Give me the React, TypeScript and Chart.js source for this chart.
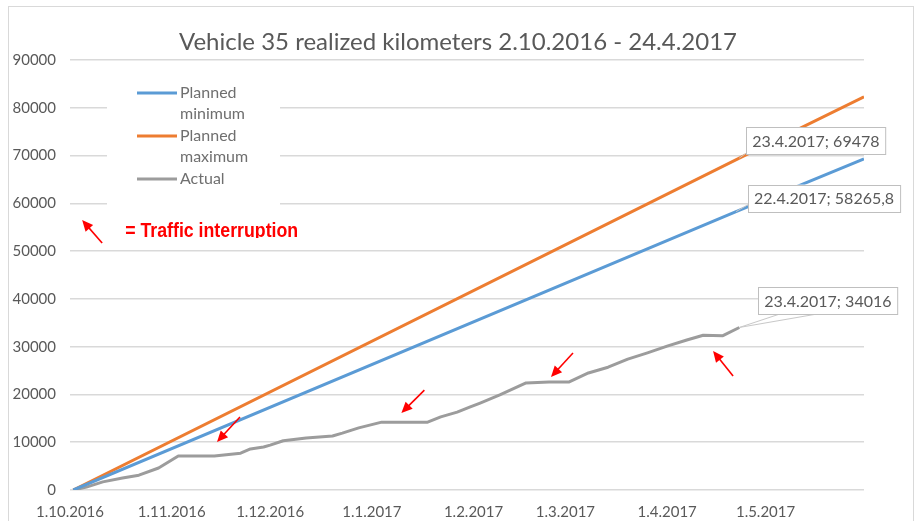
import React, { useEffect, useRef } from "react";
import { Chart, registerables } from "chart.js";

Chart.register(...registerables);

// ---------------- data ----------------
const TITLE = "Vehicle 35 realized kilometers 2.10.2016 - 24.4.2017";
const NOTE_TEXT = "= Traffic interruption";

// x values are days since 1.10.2016
const monthTickDays = [0, 31, 61, 92, 123, 151, 182, 212];
const monthTickLabels = [
  "1.10.2016", "1.11.2016", "1.12.2016", "1.1.2017",
  "1.2.2017", "1.3.2017", "1.4.2017", "1.5.2017",
];
const X_MAX_DAY = 242;
const Y_MAX = 90000;
const Y_STEP = 10000;

const seriesNames = ["Planned minimum", "Planned maximum", "Actual"];

const plannedMinDays = [1, 203, 242];
const plannedMinKm = [0, 58265.8, 69300];

const plannedMaxDays = [1, 204, 242];
const plannedMaxKm = [0, 69478, 82300];

const actualDays = [
  1, 5, 10, 16, 21, 27, 33, 44, 52, 55, 59, 61, 65, 72, 80, 83, 88, 95, 102,
  109, 113, 118, 122, 125, 131, 139, 146, 152, 158, 164, 170, 176, 182, 188,
  193, 199, 204,
];
const actualKm = [
  0, 600, 1700, 2500, 3100, 4600, 7100, 7100, 7700, 8600, 9000, 9400, 10300,
  10900, 11300, 11900, 13000, 14200, 14200, 14200, 15300, 16300, 17400, 18200,
  19900, 22400, 22600, 22600, 24500, 25700, 27400, 28700, 30100, 31400, 32400,
  32300, 34016,
];

// index of the labelled point in each series
const labelledIndex = [1, 1, actualDays.length - 1];

// traffic interruption arrows (arrow heads), days / km
const interruptionDays = [44.8, 101, 146.6, 196];
const interruptionKm = [10050, 16100, 23650, 29100];
// key arrow next to the note
const noteArrowDay = 3.7;
const noteArrowKm = 56500;

// ---------------- styles ----------------
const COLORS = ["#5b9bd5", "#ed7d31", "#9c9c9c"];
const FONT = "Lato, 'Open Sans', sans-serif";
const TEXT = "#595959";

function fmtDate(day: number) {
  const d = new Date(2016, 9, 1 + day);
  return `${d.getDate()}.${d.getMonth() + 1}.${d.getFullYear()}`;
}
function fmtKm(v: number) {
  return String(v).replace(".", ",");
}

function drawArrow(ctx: CanvasRenderingContext2D, x1: number, y1: number, x2: number, y2: number) {
  const ang = Math.atan2(y2 - y1, x2 - x1);
  const c = Math.cos(ang), s = Math.sin(ang);
  const L = 11, W = 5;
  ctx.beginPath();
  ctx.moveTo(x1, y1);
  ctx.lineTo(x2 - L * 0.7 * c, y2 - L * 0.7 * s);
  ctx.stroke();
  ctx.beginPath();
  ctx.moveTo(x2, y2);
  ctx.lineTo(x2 - L * c + W * s, y2 - L * s - W * c);
  ctx.lineTo(x2 - L * c - W * s, y2 - L * s + W * c);
  ctx.closePath();
  ctx.fill();
}

const labelOffsets = [
  { dx: 12, dy: -27, wedge: false, lx: 0, ly: 20 },
  { dx: 7, dy: -31, wedge: false, lx: 0, ly: 26 },
  { dx: 19, dy: -40, wedge: true, lx: 0, ly: 0 },
];
const arrowTails = [
  [23, -25],
  [23, -23],
  [22, -24],
  [20, 25],
];

const decorPlugin = {
  id: "decor",
  beforeDraw(chart: any) {
    const { ctx, width, height } = chart;
    ctx.save();
    ctx.fillStyle = "#ffffff";
    ctx.fillRect(0, 0, width, height);
    ctx.strokeStyle = "#d9d9d9";
    ctx.lineWidth = 1;
    ctx.strokeRect(8.5, 6.5, 905, height + 10);
    // title
    ctx.fillStyle = TEXT;
    ctx.font = `24px ${FONT}`;
    ctx.textAlign = "center";
    ctx.textBaseline = "middle";
    ctx.fillText(TITLE, 458, 42);
    ctx.restore();
  },
  beforeDatasetsDraw(chart: any) {
    const { ctx, chartArea: ca } = chart;
    ctx.save();
    // legend box
    ctx.fillStyle = "#ffffff";
    ctx.fillRect(ca.left + 37, ca.top + 14, 173, 138);
    const lx = ca.left + 67;
    const rows = [ca.top + 33, ca.top + 76, ca.top + 119];
    ctx.font = `16px ${FONT}`;
    ctx.textAlign = "left";
    ctx.textBaseline = "middle";
    seriesNames.forEach((name, i) => {
      ctx.strokeStyle = COLORS[i];
      ctx.lineWidth = 3;
      ctx.beginPath();
      ctx.moveTo(lx, rows[i]);
      ctx.lineTo(lx + 40, rows[i]);
      ctx.stroke();
      ctx.fillStyle = "#6f6f6f";
      name.split(" ").forEach((w, j) => {
        ctx.fillText(w, lx + 43, rows[i] + j * 21);
      });
    });
    ctx.restore();
  },
  afterDatasetsDraw(chart: any) {
    const { ctx, scales } = chart;
    const xs = scales.x, ys = scales.y;
    ctx.save();
    // data labels
    ctx.font = `16px ${FONT}`;
    ctx.textBaseline = "middle";
    ctx.textAlign = "left";
    chart.data.datasets.forEach((ds: any, i: number) => {
      const p = ds.data[labelledIndex[i]];
      const px = xs.getPixelForValue(p.x);
      const py = ys.getPixelForValue(p.y);
      const txt = `${fmtDate(p.x)}; ${fmtKm(p.y)}`;
      const o = labelOffsets[i];
      const w = ctx.measureText(txt).width + 12;
      const h = 27;
      const left = px + o.dx, top = py + o.dy;
      ctx.strokeStyle = "#c8c8c8";
      ctx.lineWidth = 1;
      ctx.beginPath();
      if (o.wedge) {
        ctx.moveTo(left + 20, top + h);
        ctx.lineTo(px, py);
        ctx.lineTo(left + 56, top + h);
      } else {
        ctx.moveTo(px, py);
        ctx.lineTo(left + o.lx, top + o.ly);
      }
      ctx.stroke();
      ctx.fillStyle = "#ffffff";
      ctx.fillRect(left, top, w, h);
      ctx.strokeStyle = "#bfbfbf";
      ctx.strokeRect(Math.round(left) + 0.5, Math.round(top) + 0.5, w, h);
      ctx.fillStyle = TEXT;
      ctx.fillText(txt, left + 6, top + h / 2 + 1);
    });
    // arrows
    ctx.strokeStyle = "#ff0000";
    ctx.fillStyle = "#ff0000";
    ctx.lineWidth = 1.6;
    interruptionDays.forEach((d, i) => {
      const hx = xs.getPixelForValue(d);
      const hy = ys.getPixelForValue(interruptionKm[i]);
      drawArrow(ctx, hx + arrowTails[i][0], hy + arrowTails[i][1], hx, hy);
    });
    const nx = xs.getPixelForValue(noteArrowDay);
    const ny = ys.getPixelForValue(noteArrowKm);
    drawArrow(ctx, nx + 20, ny + 23, nx, ny);
    // note text (clipped at baseline like the reference)
    ctx.save();
    ctx.beginPath();
    ctx.rect(nx + 30, ny - 20, 220, 38);
    ctx.clip();
    ctx.font = `bold 20px 'Liberation Sans', Arial, sans-serif`;
    ctx.textBaseline = "alphabetic";
    ctx.fillText(NOTE_TEXT, nx + 43, ny + 17, 173);
    ctx.restore();
    ctx.restore();
  },
};

export default function App() {
  const ref = useRef<HTMLCanvasElement>(null);
  useEffect(() => {
    if (!ref.current) return;
    const toXY = (xs: number[], ys: number[]) => xs.map((x, i) => ({ x, y: ys[i] }));
    const chart = new Chart(ref.current, {
      type: "line",
      data: {
        datasets: [
          { label: seriesNames[0], data: toXY(plannedMinDays, plannedMinKm), borderColor: COLORS[0], backgroundColor: COLORS[0] },
          { label: seriesNames[1], data: toXY(plannedMaxDays, plannedMaxKm), borderColor: COLORS[1], backgroundColor: COLORS[1] },
          { label: seriesNames[2], data: toXY(actualDays, actualKm), borderColor: COLORS[2], backgroundColor: COLORS[2] },
        ],
      },
      options: {
        responsive: false,
        animation: false,
        events: [],
        layout: { padding: { left: 8, right: 51, top: 60, bottom: 0 } },
        elements: {
          line: { borderWidth: 3, tension: 0, borderJoinStyle: "round" },
          point: { radius: 0 },
        },
        plugins: {
          legend: { display: false },
          title: { display: false },
          tooltip: { enabled: false },
        },
        scales: {
          x: {
            type: "linear",
            min: 0,
            max: X_MAX_DAY,
            grid: { display: false, drawTicks: false },
            border: { display: false },
            afterBuildTicks: (scale: any) => {
              scale.ticks = monthTickDays.map((v) => ({ value: v }));
            },
            afterFit: (scale: any) => {
              scale.height = 31;
            },
            ticks: {
              autoSkip: false,
              maxRotation: 0,
              padding: 13,
              color: TEXT,
              font: { family: FONT, size: 15 },
              callback: (_v: any, i: number) => monthTickLabels[i],
            },
          },
          y: {
            min: 0,
            max: Y_MAX,
            grid: { color: "#d9d9d9", lineWidth: 1.5, drawTicks: false },
            border: { display: false },
            afterFit: (scale: any) => {
              scale.width = 62;
            },
            ticks: {
              stepSize: Y_STEP,
              padding: 14,
              color: TEXT,
              font: { family: FONT, size: 15 },
              callback: (v: any) => String(v),
            },
          },
        },
      },
      plugins: [decorPlugin],
    });
    return () => chart.destroy();
  }, []);
  return (
    <div style={{ position: "absolute", left: 0, top: 0, width: 915, height: 521 }}>
      <canvas ref={ref} width={915} height={521} />
    </div>
  );
}
